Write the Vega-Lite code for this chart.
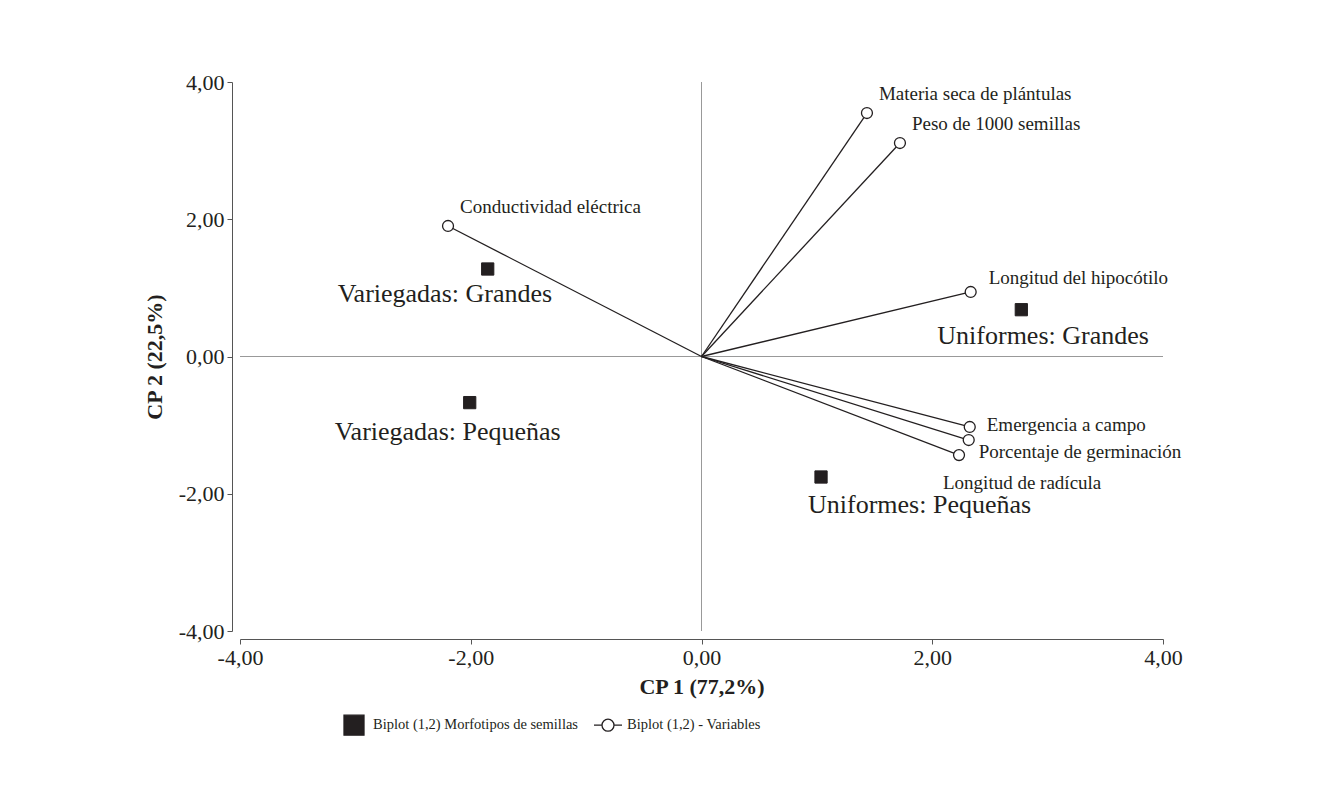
{
  "$schema": "https://vega.github.io/schema/vega-lite/v6.json",
  "autosize": {"type": "none"},
  "width": 923,
  "height": 549,
  "padding": {"left": 240, "top": 82, "right": 173, "bottom": 160},
  "background": "white",
  "datasets": {
    "vars": [
      {"nombre": "Materia seca de plántulas", "cp1": 1.434, "cp2": 3.548, "serie": "Biplot (1,2) - Variables"},
      {"nombre": "Peso de 1000 semillas", "cp1": 1.72, "cp2": 3.111, "serie": "Biplot (1,2) - Variables"},
      {"nombre": "Conductividad eléctrica", "cp1": -2.197, "cp2": 1.902, "serie": "Biplot (1,2) - Variables"},
      {"nombre": "Longitud del hipocótilo", "cp1": 2.333, "cp2": 0.94, "serie": "Biplot (1,2) - Variables"},
      {"nombre": "Emergencia a campo", "cp1": 2.325, "cp2": -1.027, "serie": "Biplot (1,2) - Variables"},
      {"nombre": "Porcentaje de germinación", "cp1": 2.316, "cp2": -1.217, "serie": "Biplot (1,2) - Variables"},
      {"nombre": "Longitud de radícula", "cp1": 2.232, "cp2": -1.436, "serie": "Biplot (1,2) - Variables"}
    ],
    "morfo": [
      {"nombre": "Variegadas: Grandes", "cp1": -1.853, "cp2": 1.275, "serie": "Biplot (1,2) Morfotipos de semillas"},
      {"nombre": "Variegadas: Pequeñas", "cp1": -2.009, "cp2": -0.672, "serie": "Biplot (1,2) Morfotipos de semillas"},
      {"nombre": "Uniformes: Grandes", "cp1": 2.772, "cp2": 0.682, "serie": "Biplot (1,2) Morfotipos de semillas"},
      {"nombre": "Uniformes: Pequeñas", "cp1": 1.036, "cp2": -1.756, "serie": "Biplot (1,2) Morfotipos de semillas"}
    ]
  },
  "config": {
    "view": {"stroke": null},
    "locale": {"number": {"decimal": ",", "thousands": ".", "grouping": [3], "currency": ["", " €"], "minus": "-"}},
    "font": "Liberation Serif",
    "axis": {
      "grid": false,
      "offset": 8,
      "domainColor": "#555555",
      "tickColor": "#555555",
      "tickSize": 5,
      "labelFont": "Liberation Serif",
      "labelFontSize": 22,
      "labelColor": "#231f20",
      "labelFlush": false,
      "titleFont": "Liberation Serif",
      "titleFontSize": 22,
      "titleFontWeight": "bold",
      "titleColor": "#231f20"
    },
    "legend": {
      "orient": "none", "direction": "horizontal", "legendX": 103, "legendY": 632,
      "symbolSize": 400, "labelOffset": 8, "columnPadding": 13,
      "symbolStrokeWidth": 1.3, "symbolOpacity": 1,
      "labelFont": "Liberation Serif", "labelFontSize": 14.5, "labelColor": "#231f20", "labelLimit": 400
    },
    "text": {"font": "Liberation Serif", "color": "#231f20"}
  },
  "encoding": {
    "x": {"field": "cp1", "type": "quantitative", "scale": {"domain": [-4, 4], "nice": false, "zero": false},
      "axis": {"values": [-4, -2, 0, 2, 4], "format": ".2f", "title": "CP 1 (77,2%)", "labelPadding": 3, "titlePadding": 8}},
    "y": {"field": "cp2", "type": "quantitative", "scale": {"domain": [-4, 4], "nice": false, "zero": false},
      "axis": {"values": [-4, -2, 0, 2, 4], "format": ".2f", "title": "CP 2 (22,5%)", "labelPadding": 3, "titlePadding": 12}}
  },
  "layer": [
    {"data": {"name": "vars"}, "mark": {"type": "rule", "color": "#999999", "strokeWidth": 1}, "encoding": {"y": {"datum": 0, "type": "quantitative"}, "x": null}},
    {"data": {"name": "vars"}, "mark": {"type": "rule", "color": "#999999", "strokeWidth": 1}, "encoding": {"x": {"datum": 0, "type": "quantitative"}, "y": null}},
    {"data": {"name": "vars"}, "mark": {"type": "rule", "color": "#231f20", "strokeWidth": 1.3},
      "encoding": {"x": {"datum": 0, "type": "quantitative"}, "y": {"datum": 0, "type": "quantitative"}, "x2": {"field": "cp1"}, "y2": {"field": "cp2"}}},
    {"data": {"name": "vars"}, "mark": {"type": "point", "shape": "circle", "filled": true, "size": 120, "strokeWidth": 1.3, "opacity": 1},
      "encoding": {
        "fill": {"field": "serie", "type": "nominal",
          "scale": {"domain": ["Biplot (1,2) Morfotipos de semillas", "Biplot (1,2) - Variables"], "range": ["#231f20", "#ffffff"]},
          "legend": {"title": null}},
        "stroke": {"field": "serie", "type": "nominal",
          "scale": {"domain": ["Biplot (1,2) Morfotipos de semillas", "Biplot (1,2) - Variables"], "range": ["#231f20", "#231f20"]},
          "legend": {"title": null}}}},
    {"data": {"name": "morfo"}, "mark": {"type": "point", "filled": true, "size": 150, "strokeWidth": 1, "opacity": 1},
      "encoding": {
        "fill": {"field": "serie", "type": "nominal", "legend": {"title": null}},
        "stroke": {"field": "serie", "type": "nominal", "legend": {"title": null}},
        "shape": {"field": "serie", "type": "nominal",
          "scale": {"domain": ["Biplot (1,2) Morfotipos de semillas", "Biplot (1,2) - Variables"],
            "range": ["square", "M0,-1L0,-1M0,1L0,1M-1.4,0L-0.6,0M0.6,0L1.4,0M0.6,0A0.6,0.6,0,1,1,-0.6,0A0.6,0.6,0,1,1,0.6,0"]},
          "legend": {"title": null}}}},
    {"data": {"name": "vars"}, "transform": [{"filter": {"field": "nombre", "oneOf": ["Materia seca de plántulas", "Peso de 1000 semillas", "Conductividad eléctrica"]}}],
      "mark": {"type": "text", "font": "Liberation Serif", "align": "left", "baseline": "middle", "dx": 12, "dy": -19, "fontSize": 19}, "encoding": {"text": {"field": "nombre"}}},
    {"data": {"name": "vars"}, "transform": [{"filter": "datum.nombre === 'Longitud del hipocótilo'"}],
      "mark": {"type": "text", "font": "Liberation Serif", "align": "left", "baseline": "middle", "dx": 18, "dy": -14, "fontSize": 19}, "encoding": {"text": {"field": "nombre"}}},
    {"data": {"name": "vars"}, "transform": [{"filter": "datum.nombre === 'Emergencia a campo'"}],
      "mark": {"type": "text", "font": "Liberation Serif", "align": "left", "baseline": "middle", "dx": 17, "dy": -2, "fontSize": 19}, "encoding": {"text": {"field": "nombre"}}},
    {"data": {"name": "vars"}, "transform": [{"filter": "datum.nombre === 'Porcentaje de germinación'"}],
      "mark": {"type": "text", "font": "Liberation Serif", "align": "left", "baseline": "middle", "dx": 10, "dy": 12, "fontSize": 19}, "encoding": {"text": {"field": "nombre"}}},
    {"data": {"name": "vars"}, "transform": [{"filter": "datum.nombre === 'Longitud de radícula'"}],
      "mark": {"type": "text", "font": "Liberation Serif", "align": "left", "baseline": "middle", "dx": -16, "dy": 28, "fontSize": 19}, "encoding": {"text": {"field": "nombre"}}},
    {"data": {"name": "morfo"}, "transform": [{"filter": "datum.nombre === 'Variegadas: Grandes'"}],
      "mark": {"type": "text", "font": "Liberation Serif", "align": "left", "baseline": "middle", "dx": -150, "dy": 25, "fontSize": 26}, "encoding": {"text": {"field": "nombre"}}},
    {"data": {"name": "morfo"}, "transform": [{"filter": "datum.nombre === 'Variegadas: Pequeñas'"}],
      "mark": {"type": "text", "font": "Liberation Serif", "align": "left", "baseline": "middle", "dx": -135, "dy": 29, "fontSize": 26}, "encoding": {"text": {"field": "nombre"}}},
    {"data": {"name": "morfo"}, "transform": [{"filter": "datum.nombre === 'Uniformes: Grandes'"}],
      "mark": {"type": "text", "font": "Liberation Serif", "align": "left", "baseline": "middle", "dx": -84, "dy": 26, "fontSize": 26}, "encoding": {"text": {"field": "nombre"}}},
    {"data": {"name": "morfo"}, "transform": [{"filter": "datum.nombre === 'Uniformes: Pequeñas'"}],
      "mark": {"type": "text", "font": "Liberation Serif", "align": "left", "baseline": "middle", "dx": -13, "dy": 28, "fontSize": 26}, "encoding": {"text": {"field": "nombre"}}}
  ]
}
